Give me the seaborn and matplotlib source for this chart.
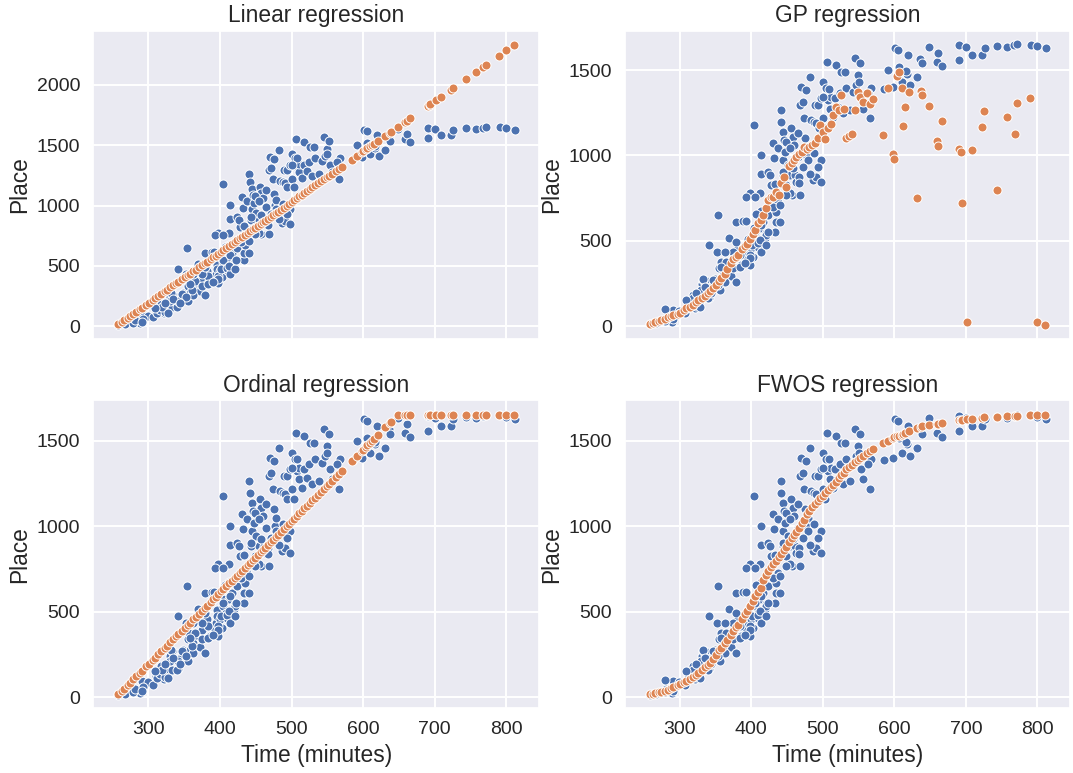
import matplotlib
matplotlib.use("Agg")
import matplotlib.pyplot as plt
import seaborn as sns

# ---------------- observed data (blue) ----------------
time_obs = [
    267, 284, 289, 279, 291, 299, 307, 311, 318, 322,
    326, 328, 331, 335, 341, 343, 341, 354, 349, 355,
    357, 356, 358, 363, 366, 369, 372, 375, 379, 379,
    382, 382, 389, 392, 393, 395, 396, 396, 398, 400,
    403, 404, 405, 409, 410, 412, 412, 413, 414, 414,
    417, 419, 421, 424, 424, 428, 431, 432, 433, 434,
    435, 438, 438, 440, 441, 442, 444, 445, 445, 446,
    447, 449, 451, 454, 456, 457, 458, 460, 461, 463,
    465, 468, 468, 470, 472, 474, 475, 476, 477, 479,
    482, 484, 486, 488, 489, 491, 491, 493, 494, 498,
    498, 500, 500, 503, 505, 506, 507, 510, 511, 514,
    517, 518, 521, 524, 526, 528, 531, 533, 538, 542,
    545, 547, 549, 550, 552, 553, 556, 566, 568, 591,
    598, 601, 605, 610, 617, 619, 622, 631, 636, 638,
    659, 661, 666, 649, 691, 700, 691, 708, 722, 726,
    744, 757, 767, 771, 791, 800, 812, 606, 616, 586,
    563, 281, 293, 312, 316, 323, 319, 333, 340, 330,
    342, 333, 347, 363, 365, 375, 386, 384, 398, 401,
    410, 414, 405, 414, 421, 375, 361, 404, 508, 500,
    465, 449, 454, 488, 479, 498, 426, 444, 458, 472,
    493, 482, 467, 467, 454, 433, 398, 393, 405, 449,
    430, 440, 392, 407, 352, 363, 379, 398, 358, 332,
    309, 279, 291, 335, 353, 344, 323, 412, 421, 423,
    384, 391, 328, 258,
]
place_obs = [
    16, 45, 25, 29, 94, 88, 74, 123, 182, 107,
    182, 146, 244, 270, 166, 221, 475, 650, 275, 338,
    377, 211, 279, 318, 367, 514, 295, 396, 256, 611,
    455, 348, 615, 377, 396, 436, 510, 475, 357, 455,
    406, 576, 533, 494, 465, 572, 777, 674, 891, 1002,
    611, 514, 543, 650, 904, 826, 1070, 982, 553, 611,
    670, 729, 1041, 611, 1266, 1197, 885, 1139, 973, 1090,
    1021, 826, 943, 885, 1158, 768, 1109, 1061, 885, 846,
    992, 768, 1295, 1402, 1314, 1217, 1100, 1383, 1002, 1051,
    1461, 1207, 855, 1197, 1295, 1188, 875, 1295, 1158, 1334,
    846, 1432, 1217, 1158, 1393, 1549, 1324, 1275, 1344, 1227,
    1334, 1529, 1285, 1363, 1490, 1246, 1490, 1393, 1266, 1373,
    1572, 1412, 1471, 1432, 1539, 1334, 1275, 1217, 1393, 1500,
    1402, 1627, 1617, 1432, 1480, 1588, 1412, 1461, 1568, 1539,
    1549, 1598, 1525, 1637, 1646, 1637, 1559, 1588, 1588, 1627,
    1641, 1633, 1646, 1652, 1650, 1643, 1631, 1516, 1496, 1387,
    1363, 49, 61, 114, 133, 119, 162, 162, 162, 211,
    211, 270, 270, 260, 377, 338, 357, 416, 416, 475,
    484, 436, 553, 592, 533, 436, 299, 1180, 1392, 1340,
    1133, 1080, 1041, 1012, 972, 972, 885, 904, 924, 933,
    930, 890, 875, 836, 777, 832, 777, 754, 754, 767,
    699, 711, 617, 656, 435, 435, 494, 396, 347, 274,
    152, 100, 39, 230, 240, 195, 195, 504, 475, 553,
    347, 367, 113, 10,
]

# ---------------- model predictions (orange) ----------------
pred_time = [
    258, 263, 266, 271, 274, 279, 283, 288, 291, 297,
    301, 306, 309, 314, 318, 323, 326, 331, 335, 339,
    342, 347, 351, 355, 358, 363, 366, 371, 375, 379,
    382, 387, 391, 394, 398, 402, 405, 409, 413, 417,
    421, 424, 428, 431, 435, 439, 442, 446, 449, 453,
    457, 460, 463, 467, 471, 474, 478, 481, 485, 489,
    493, 496, 500, 503, 507, 511, 514, 518, 522, 526,
    529, 533, 537, 541, 545, 549, 552, 556, 562, 566,
    570, 584, 591, 598, 600, 604, 606, 610, 612, 615,
    621, 631, 637, 639, 648, 659, 661, 666, 690, 693,
    694, 701, 708, 722, 725, 744, 757, 768, 772, 789,
    800, 811,
]
pred_linear = [
    17, 38, 50, 71, 84, 105, 122, 143, 155, 180,
    197, 218, 231, 251, 268, 289, 302, 323, 339, 356,
    369, 390, 406, 423, 436, 457, 469, 490, 507, 524,
    536, 557, 574, 586, 603, 620, 632, 649, 666, 683,
    699, 712, 729, 741, 758, 775, 787, 804, 817, 833,
    850, 863, 875, 892, 909, 921, 938, 951, 967, 984,
    1001, 1014, 1030, 1043, 1060, 1076, 1089, 1106, 1122, 1139,
    1152, 1168, 1185, 1202, 1219, 1235, 1248, 1265, 1290, 1307,
    1323, 1382, 1411, 1441, 1449, 1466, 1474, 1491, 1499, 1512,
    1537, 1579, 1604, 1612, 1650, 1696, 1704, 1725, 1826, 1838,
    1843, 1872, 1901, 1960, 1972, 2052, 2106, 2152, 2169, 2240,
    2286, 2332,
]
pred_gp = [
    12, 18, 22, 28, 33, 42, 52, 60, 66, 73,
    78, 92, 105, 113, 125, 140, 150, 162, 178, 192,
    205, 225, 240, 264, 280, 305, 335, 368, 390, 405,
    418, 450, 468, 480, 508, 540, 565, 605, 622, 648,
    690, 738, 758, 757, 787, 767, 836, 871, 816, 937,
    958, 972, 990, 1008, 1020, 1047, 1040, 1047, 1060, 1070,
    1100, 1177, 1138, 1094, 1158, 1187, 1236, 1285, 1265, 1353,
    1275, 1105, 1112, 1125, 1265, 1373, 1343, 1314, 1363, 1304,
    1328, 1119, 1396, 1008, 978, 1465, 1490, 1398, 1172, 1285,
    1373, 752, 1378, 1353, 1289, 1086, 1054, 1203, 1035, 1021,
    719, 25, 1031, 1168, 1260, 797, 1223, 1125, 1310, 1337,
    25, 6,
]
pred_ordinal = [
    17, 38, 50, 71, 84, 105, 122, 143, 155, 180,
    197, 218, 231, 251, 268, 289, 302, 323, 339, 356,
    369, 390, 406, 423, 436, 457, 469, 490, 507, 524,
    536, 557, 574, 586, 603, 620, 632, 649, 666, 683,
    699, 712, 729, 741, 758, 775, 787, 804, 817, 833,
    850, 863, 875, 892, 909, 921, 938, 951, 967, 984,
    1001, 1014, 1030, 1043, 1060, 1076, 1089, 1106, 1122, 1139,
    1152, 1168, 1185, 1202, 1219, 1235, 1248, 1265, 1290, 1307,
    1323, 1382, 1411, 1441, 1449, 1466, 1474, 1491, 1499, 1512,
    1537, 1579, 1604, 1612, 1650, 1652, 1652, 1652, 1652, 1652,
    1652, 1652, 1652, 1652, 1652, 1652, 1652, 1652, 1652, 1652,
    1652, 1652,
]
pred_fwos = [
    16, 20, 23, 28, 33, 39, 44, 52, 57, 70,
    77, 87, 94, 106, 117, 131, 144, 159, 175, 190,
    201, 225, 245, 275, 290, 318, 334, 362, 385, 410,
    420, 455, 485, 505, 535, 565, 590, 613, 640, 685,
    715, 738, 760, 778, 797, 820, 838, 862, 880, 910,
    930, 948, 968, 993, 1020, 1040, 1070, 1092, 1113, 1130,
    1150, 1165, 1180, 1195, 1213, 1230, 1244, 1262, 1285, 1300,
    1314, 1334, 1347, 1360, 1375, 1388, 1398, 1410, 1432, 1443,
    1452, 1490, 1502, 1520, 1525, 1530, 1532, 1537, 1540, 1546,
    1559, 1574, 1584, 1585, 1592, 1600, 1601, 1605, 1622, 1623,
    1624, 1627, 1631, 1637, 1638, 1643, 1646, 1648, 1649, 1651,
    1652, 1652,
]

titles = ["Linear regression", "GP regression", "Ordinal regression", "FWOS regression"]
preds = [pred_linear, pred_gp, pred_ordinal, pred_fwos]
x_ticks = [300, 400, 500, 600, 700, 800]

# ---------------- style ----------------
sns.set_theme(style="darkgrid", palette="deep")
plt.rcParams["font.family"] = ["Liberation Sans", "DejaVu Sans"]
plt.rcParams["grid.linewidth"] = 1.4
blue, orange = sns.color_palette("deep")[0], sns.color_palette("deep")[1]

W, H = 1073, 773
fig, axes = plt.subplots(2, 2, figsize=(W / 100, H / 100), dpi=100, sharex=True)

# axes boxes in pixels: (left, top, right, bottom)
boxes = [
    (93.5, 30.7, 539, 339),
    (625, 30.7, 1070, 339),
    (93.5, 400, 539, 708.3),
    (625, 400, 1070, 708.3),
]
ylims = [(-105, 2450), (-76, 1731), (-65, 1740), (-65, 1740)]

for ax, box, title, pred, ylim in zip(axes.flat, boxes, titles, preds, ylims):
    l, t, r, b = box
    ax.set_position([l / W, 1 - b / H, (r - l) / W, (b - t) / H])
    sns.scatterplot(x=time_obs, y=place_obs, ax=ax, color=blue, s=42,
                    edgecolor="white", linewidth=0.7)
    sns.scatterplot(x=pred_time, y=pred, ax=ax, color=orange, s=42,
                    edgecolor="white", linewidth=0.7)
    ax.set_title(title, fontsize=16.4, pad=6)
    ax.set_xlim(223.5, 845.5)
    ax.set_ylim(*ylim)
    ax.set_xticks(x_ticks)
    ax.set_ylabel("Place", fontsize=16.4)
    ax.tick_params(axis="both", labelsize=14)

for ax in axes[1]:
    ax.set_xlabel("Time (minutes)", fontsize=16.4)
for ax in axes[0]:
    ax.set_xlabel("")

fig.savefig("out.png", dpi=100)
